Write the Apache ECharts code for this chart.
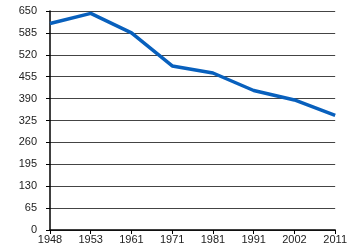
<!DOCTYPE html>
<html><head><meta charset="utf-8">
<script src="https://cdn.jsdelivr.net/npm/echarts@6/dist/echarts.min.js"></script>
<style>html,body{margin:0;padding:0;background:#fff}#c{width:350px;height:250px}</style>
</head><body><div id="c"></div>
<script>
const years = ['1948','1953','1961','1971','1981','1991','2002','2011'];
const values = [613, 643, 585, 487, 466, 414, 386, 340];
const yTicks = [0,65,130,195,260,325,390,455,520,585,650];

const chart = echarts.init(document.getElementById('c'), null, {renderer:'canvas'});
chart.setOption({
  animation:false,
  grid:{left:50,right:14,top:11,bottom:20,containLabel:false},
  xAxis:{type:'category',data:years,boundaryGap:false,
    axisLine:{lineStyle:{color:'#000',width:1.5}},
    axisTick:{show:true,length:4,lineStyle:{color:'#000'}},
    axisLabel:{color:'#222',fontFamily:'Liberation Sans',fontSize:11,margin:4,interval:0},
    splitLine:{show:false}},
  yAxis:{type:'value',min:0,max:650,interval:65,
    axisLine:{show:true,lineStyle:{color:'#000',width:1.5}},
    axisTick:{show:true,length:4,lineStyle:{color:'#000'}},
    axisLabel:{color:'#222',fontFamily:'Liberation Sans',fontSize:11,margin:13,
      formatter:v=>yTicks.includes(v)?String(v):''},
    splitLine:{show:true,lineStyle:{color:'#444',width:1}}},
  series:[{type:'line',data:values,symbol:'none',
    lineStyle:{color:'#0860bd',width:3.5}}]
});
</script></body></html>
